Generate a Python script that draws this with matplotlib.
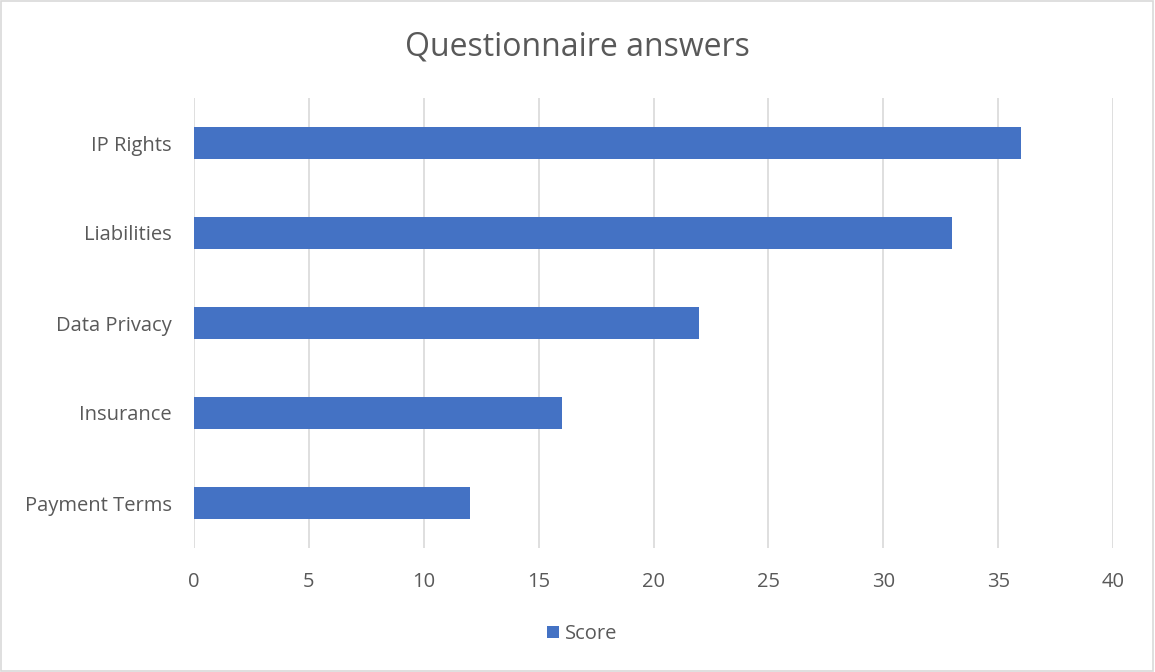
import matplotlib
matplotlib.use('Agg')
import matplotlib.pyplot as plt
from matplotlib.patches import Rectangle

# data
categories = ['Payment Terms', 'Insurance', 'Data Privacy', 'Liabilities', 'IP Rights']
scores = [12, 16, 22, 33, 36]
xticks = [0, 5, 10, 15, 20, 25, 30, 35, 40]

plt.rcParams['font.family'] = ['Open Sans', 'DejaVu Sans']
text_col = '#595959'
grid_col = '#d9d9d9'
bar_col = '#4472c4'

fig = plt.figure(figsize=(11.55, 6.72), dpi=100)
ax = fig.add_axes([194/1155, 1-548/672, (1113-194)/1155, 450/672])

ax.barh(range(len(categories)), scores, height=0.355, color=bar_col, label='Score', zorder=3)
ax.set_xlim(0, 40)
ax.set_ylim(-0.5, len(categories)-0.5)
ax.set_yticks(range(len(categories)))
ax.set_yticklabels(categories)
ax.set_xticks(xticks)
ax.tick_params(length=0, labelsize=14.5, labelcolor=text_col)
ax.tick_params(axis='y', pad=16)
ax.tick_params(axis='x', pad=17)
ax.grid(axis='x', color=grid_col, linewidth=1.2, zorder=0)
for s in ax.spines.values():
    s.set_visible(False)

fig.suptitle('Questionnaire answers', fontsize=23, color=text_col, y=0.955)

leg = fig.legend(loc='center', bbox_to_anchor=(582/1155, 1-634/672), frameon=False,
                 fontsize=14.5, handlelength=0.6, handleheight=0.6, handletextpad=0.3)
for t in leg.get_texts():
    t.set_color(text_col)

fig.patches.append(Rectangle((0.0005, 0.001), 0.998, 0.997, transform=fig.transFigure,
                             fill=False, edgecolor=grid_col, linewidth=1.2))

fig.savefig('out.png', dpi=100)
